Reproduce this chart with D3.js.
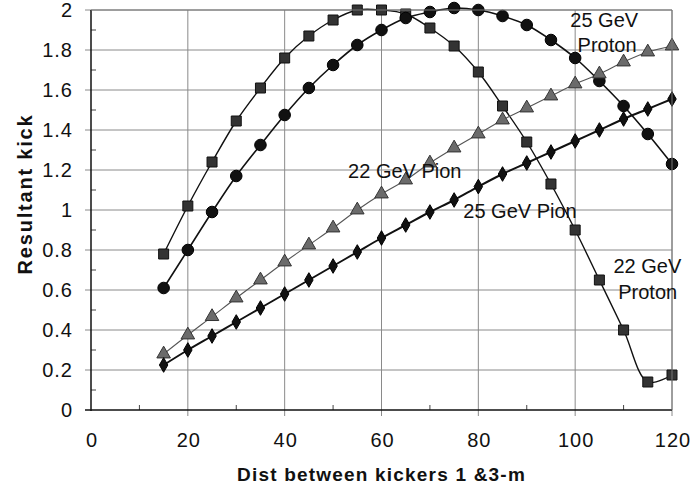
<!DOCTYPE html>
<html>
<head>
<meta charset="utf-8">
<script src="https://cdn.jsdelivr.net/npm/d3@7"></script>
<style>
  html, body { margin: 0; padding: 0; background: #fff; }
  svg { display: block; font-family: "Liberation Sans", Arial, Helvetica, sans-serif; }
</style>
</head>
<body>
<svg id="chart" width="696" height="489"></svg>
<script>
// Separation between kickers (m)
const distances = [15, 20, 25, 30, 35, 40, 45, 50, 55, 60, 65, 70, 75, 80, 85, 90, 95, 100, 105, 110, 115, 120];

// Resultant kick for each beam
const proton22 = [0.78, 1.02, 1.24, 1.445, 1.61, 1.76, 1.87, 1.95, 2.0, 2.0, 1.98, 1.91, 1.82, 1.69, 1.52, 1.34, 1.13, 0.90, 0.65, 0.40, 0.14, 0.175];
const proton25 = [0.61, 0.80, 0.99, 1.17, 1.325, 1.475, 1.61, 1.725, 1.825, 1.90, 1.96, 1.99, 2.01, 2.0, 1.97, 1.925, 1.85, 1.76, 1.645, 1.52, 1.38, 1.23];
const pion22 = [0.28, 0.375, 0.467, 0.56, 0.65, 0.74, 0.825, 0.91, 1.0, 1.08, 1.15, 1.235, 1.31, 1.38, 1.45, 1.51, 1.57, 1.63, 1.68, 1.74, 1.79, 1.82];
const pion25 = [0.225, 0.30, 0.37, 0.44, 0.51, 0.58, 0.65, 0.72, 0.79, 0.86, 0.925, 0.99, 1.05, 1.117, 1.18, 1.235, 1.29, 1.345, 1.40, 1.455, 1.505, 1.555];

// Axis ticks
const xTicks = [0, 20, 40, 60, 80, 100, 120];
const yTicks = [0, 0.2, 0.4, 0.6, 0.8, 1, 1.2, 1.4, 1.6, 1.8, 2];
const xMinor = [10, 30, 50, 70, 90, 110];
const yMinor = [0.1, 0.3, 0.5, 0.7, 0.9, 1.1, 1.3, 1.5, 1.7, 1.9];

const svg = d3.select("#chart");
const margin = { left: 91, right: 24, top: 10, bottom: 79 };
const W = 696, H = 489;

const x = d3.scaleLinear().domain([0, 120]).range([margin.left, W - margin.right]);
const y = d3.scaleLinear().domain([0, 2]).range([H - margin.bottom, margin.top]);

const x0 = x(0), x1 = x(120), y0 = y(0), y1 = y(2);

// Grid
const grid = svg.append("g");
grid.selectAll("line.h").data(yTicks.slice(1)).join("line")
  .attr("x1", x0 - 6).attr("x2", x1)
  .attr("y1", d => y(d)).attr("y2", d => y(d))
  .attr("stroke", "#8a8a8a").attr("stroke-width", 1);
grid.selectAll("line.v").data(xTicks.slice(1)).join("line")
  .attr("y1", y0 + 6).attr("y2", y1)
  .attr("x1", d => x(d)).attr("x2", d => x(d))
  .attr("stroke", "#8a8a8a").attr("stroke-width", 1);

// Minor ticks inside the axes
grid.selectAll("line.ym").data(yMinor).join("line")
  .attr("x1", x0).attr("x2", x0 + 5)
  .attr("y1", d => y(d)).attr("y2", d => y(d))
  .attr("stroke", "#444").attr("stroke-width", 1);
grid.selectAll("line.xm").data(xMinor).join("line")
  .attr("y1", y0).attr("y2", y0 - 5)
  .attr("x1", d => x(d)).attr("x2", d => x(d))
  .attr("stroke", "#444").attr("stroke-width", 1);

// Axis lines
svg.append("line").attr("x1", x0).attr("x2", x0).attr("y1", y1).attr("y2", y0 + 1)
  .attr("stroke", "#111").attr("stroke-width", 1.5);
svg.append("line").attr("x1", x0 - 6).attr("x2", x1).attr("y1", y0).attr("y2", y0)
  .attr("stroke", "#111").attr("stroke-width", 1.5);

// Tick labels
const fmt = d => (Math.round(d * 10) / 10).toString();
svg.append("g").selectAll("text").data(yTicks).join("text")
  .attr("x", x0 - 18).attr("y", d => y(d) + 7)
  .attr("text-anchor", "end")
  .attr("font-size", 20).attr("letter-spacing", 1)
  .attr("fill", "#111")
  .text(fmt);
svg.append("g").selectAll("text").data(xTicks).join("text")
  .attr("x", d => x(d) + 1).attr("y", y0 + 37)
  .attr("text-anchor", "middle")
  .attr("font-size", 20).attr("letter-spacing", 1)
  .attr("fill", "#111")
  .text(d => d);

// Axis titles
svg.append("text")
  .attr("x", (x0 + x1) / 2 + 0).attr("y", 481)
  .attr("text-anchor", "middle")
  .attr("font-size", 19).attr("font-weight", "bold").attr("letter-spacing", 1.2)
  .attr("fill", "#111")
  .text("Dist between kickers 1 &3-m");
svg.append("text")
  .attr("transform", `translate(32, 194) rotate(-90)`)
  .attr("text-anchor", "middle")
  .attr("font-size", 20).attr("font-weight", "bold").attr("letter-spacing", 1.8)
  .attr("fill", "#111")
  .text("Resultant kick");

// Series
const series = [
  { name: "22 GeV Proton", values: proton22, marker: "square", fill: "#333", stroke: "#111", line: "#111", lw: 1.4 },
  { name: "25 GeV Proton", values: proton25, marker: "circle", fill: "#111", stroke: "#000", line: "#111", lw: 1.6 },
  { name: "22 GeV Pion", values: pion22, marker: "triangle", fill: "#6b6b6b", stroke: "#333", line: "#555", lw: 1.1 },
  { name: "25 GeV Pion", values: pion25, marker: "diamond", fill: "#111", stroke: "#000", line: "#111", lw: 2 }
];

const symbols = {
  square: d3.symbol().type(d3.symbolSquare).size(100),
  circle: d3.symbol().type(d3.symbolCircle).size(105),
  triangle: d3.symbol().type(d3.symbolTriangle).size(80),
  diamond: d3.symbol().type(d3.symbolDiamond).size(62)
};

const lineGen = d3.line()
  .x(d => x(d[0])).y(d => y(d[1]))
  .curve(d3.curveCatmullRom.alpha(0.5));

series.forEach(s => {
  const pts = distances.map((d, i) => [d, s.values[i]]);
  const g = svg.append("g");
  g.append("path").datum(pts)
    .attr("d", lineGen)
    .attr("fill", "none").attr("stroke", s.line).attr("stroke-width", s.lw);
  g.selectAll("path.m").data(pts).join("path")
    .attr("transform", d => `translate(${x(d[0])},${y(d[1])})`)
    .attr("d", symbols[s.marker]())
    .attr("fill", s.fill).attr("stroke", s.stroke).attr("stroke-width", 1);
});

// Frame (top and right)
svg.append("line").attr("x1", x0).attr("x2", x1).attr("y1", y1).attr("y2", y1)
  .attr("stroke", "#777").attr("stroke-width", 1);
svg.append("line").attr("x1", x1).attr("x2", x1).attr("y1", y1).attr("y2", y0)
  .attr("stroke", "#777").attr("stroke-width", 1);

// Series annotations
const notes = [
  { text: "25 GeV", at: [99.0, 1.915] },
  { text: "Proton", at: [100.5, 1.79] },
  { text: "22 GeV Pion", at: [53.1, 1.16] },
  { text: "25 GeV Pion", at: [76.9, 0.96] },
  { text: "22 GeV", at: [107.9, 0.685] },
  { text: "Proton", at: [108.9, 0.555] }
];
svg.append("g").selectAll("text").data(notes).join("text")
  .attr("x", d => x(d.at[0])).attr("y", d => y(d.at[1]))
  .attr("font-size", 20).attr("fill", "#111")
  .text(d => d.text);
</script>
</body>
</html>
